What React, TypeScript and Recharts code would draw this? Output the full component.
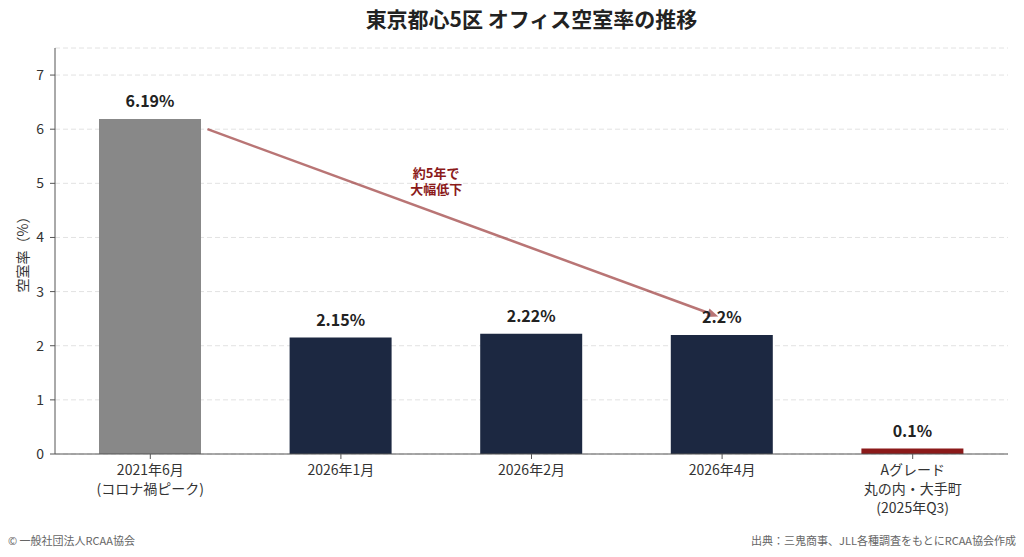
import React from "react";
import { BarChart, Bar, XAxis, YAxis, CartesianGrid, LabelList, Cell, ReferenceLine, ReferenceDot } from "recharts";

const FONT = '"Noto Sans CJK JP", "Noto Sans", sans-serif';

// data
const periods = [
   "2021年6月\n(コロナ禍ピーク)",
   "2026年1月",
   "2026年2月",
   "2026年4月",
   "Aグレード\n丸の内・大手町\n(2025年Q3)",
];
const vacancyRates = [6.19, 2.15, 2.22, 2.2, 0.1];
const yTicks = [0, 1, 2, 3, 4, 5, 6, 7];
const arrowFrom = { x: 0.3, y: 6.0 };
const arrowTo = { x: 2.98, y: 2.54 };
const noteAt = { x: 1.5, y: 5.05 };
const noteLines = ["約5年で", "大幅低下"];

const barColors = ["#888888", "#1c2841", "#1c2841", "#1c2841", "#8b1a1a"];

const chartData = periods.map((p, i) => ({ period: p, pos: i, rate: vacancyRates[i] }));

function PeriodTick(props: any) {
   const { x, y, payload } = props;
   const lines = String(payload.value).split("\n");
   return (
      <text x={x} y={y} textAnchor="middle" fill="#333" fontSize={14} fontFamily={FONT}>
         {lines.map((l, i) => (
            <tspan key={i} x={x} dy={i === 0 ? 14 : 19}>
               {l}
            </tspan>
         ))}
      </text>
   );
}

function ArrowShape(props: any) {
   const { x1, y1, x2, y2 } = props;
   const ang = Math.atan2(y2 - y1, x2 - x1);
   const len = 11;
   const hw = 4.5;
   const bx = x2 - len * Math.cos(ang);
   const by = y2 - len * Math.sin(ang);
   const px = -Math.sin(ang) * hw;
   const py = Math.cos(ang) * hw;
   return (
      <g opacity={0.6}>
         <line x1={x1} y1={y1} x2={bx} y2={by} stroke="#8b1a1a" strokeWidth={2.5} />
         <polygon points={`${x2},${y2} ${bx + px},${by + py} ${bx - px},${by - py}`} fill="#8b1a1a" />
      </g>
   );
}

function NoteShape(props: any) {
   const { cx, cy } = props;
   return (
      <text x={cx} y={cy} textAnchor="middle" fill="#8b1a1a" fontSize={13} fontWeight="bold" fontFamily={FONT}>
         {noteLines.map((l, i) => (
            <tspan key={i} x={cx} dy={i === 0 ? -3 : 16}>
               {l}
            </tspan>
         ))}
      </text>
   );
}

function YLabel(props: any) {
   const { viewBox } = props;
   const cx = viewBox.x + 22;
   const cy = viewBox.y + viewBox.height / 2;
   return (
      <text x={cx} y={cy} transform={`rotate(-90, ${cx}, ${cy})`} textAnchor="middle" dominantBaseline="central" fill="#333" fontSize={14} fontFamily={FONT}>
         空室率（%）
      </text>
   );
}

export default function App() {
   return (
      <div style={{ position: "absolute", left: 0, top: 0, width: 1024, height: 557, background: "#fff", fontFamily: FONT }}>
         <div style={{ position: "absolute", left: 55, width: 953, top: 6, lineHeight: "24px", textAlign: "center", fontSize: 21, fontWeight: "bold", color: "#222" }}>
            東京都心5区 オフィス空室率の推移
         </div>
         <BarChart width={1024} height={557} data={chartData} margin={{ top: 48, right: 16, bottom: 43, left: 0 }}>
            <CartesianGrid vertical={false} stroke="#e2e2e2" strokeDasharray="5 3" />
            <XAxis
               xAxisId="cat"
               dataKey="period"
               height={60}
               interval={0}
               tick={<PeriodTick />}
               tickSize={5}
               tickMargin={2}
               stroke="#555"
            />
            <XAxis xAxisId="num" dataKey="pos" type="number" domain={[-0.5, 4.5]} allowDataOverflow hide />
            <YAxis
               width={55}
               domain={[0, 7.5]}
               ticks={yTicks}
               allowDataOverflow
               tickSize={5}
               tickMargin={6}
               stroke="#555"
               tick={{ fill: "#333", fontSize: 14, fontFamily: FONT }}
               label={<YLabel />}
            />
            <Bar xAxisId="cat" dataKey="rate" barSize={102} isAnimationActive={false}>
               {chartData.map((d, i) => (
                  <Cell key={d.period} fill={barColors[i]} />
               ))}
               <LabelList
                  dataKey="rate"
                  position="top"
                  offset={12}
                  formatter={(v: any) => `${v}%`}
                  fill="#222"
                  fontSize={16}
                  fontWeight="bold"
                  fontFamily={FONT}
               />
            </Bar>
            <ReferenceLine
               xAxisId="num"
               segment={[arrowFrom, arrowTo]}
               ifOverflow="visible"
               shape={<ArrowShape />}
            />
            <ReferenceDot xAxisId="num" x={noteAt.x} y={noteAt.y} r={0} ifOverflow="visible" shape={<NoteShape />} />
         </BarChart>
         <div style={{ position: "absolute", left: 8, top: 533, fontSize: 11, lineHeight: "14px", color: "#666" }}>
            © 一般社団法人RCAA協会
         </div>
         <div style={{ position: "absolute", right: 8, top: 533, fontSize: 11, lineHeight: "14px", color: "#666" }}>
            出典：三鬼商事、JLL各種調査をもとにRCAA協会作成
         </div>
      </div>
   );
}
